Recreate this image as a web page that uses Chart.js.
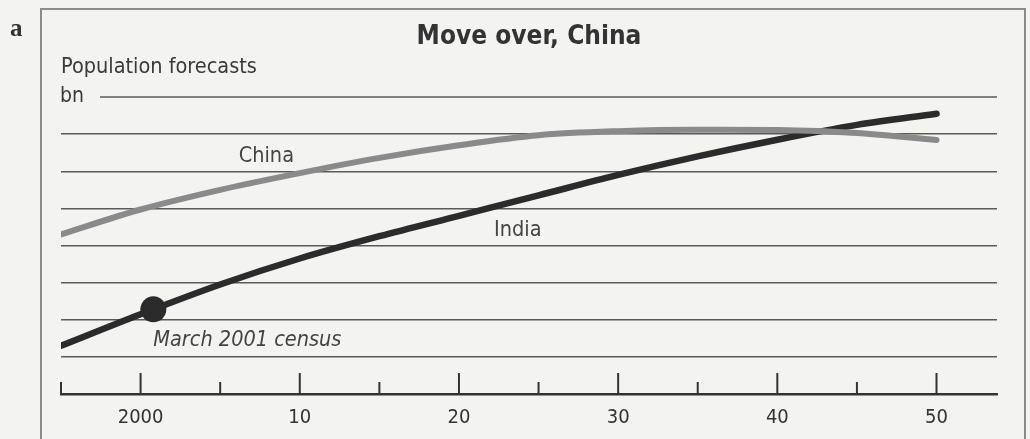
<!DOCTYPE html>
<html>
<head>
<meta charset="utf-8">
<title>Move over, China</title>
<script src="https://cdn.jsdelivr.net/npm/chart.js@4.4.1/dist/chart.umd.min.js"></script>
<style>
  html, body { margin: 0; padding: 0; background: #f3f3f1; }
  #wrap { position: relative; width: 1030px; height: 439px; }
</style>
</head>
<body>
<div id="wrap"><canvas id="population-chart"></canvas></div>
<script>
// population forecasts, bn
var years = [1995, 2000, 2005, 2010, 2015, 2020, 2025, 2030, 2035, 2040, 2045, 2050];
var china = [1.23, 1.297, 1.35, 1.395, 1.436, 1.47, 1.497, 1.508, 1.512, 1.511, 1.503, 1.484];
var india = [0.93, 1.015, 1.095, 1.165, 1.225, 1.28, 1.335, 1.39, 1.44, 1.485, 1.525, 1.555];
var censusYear = 2000.8;
var censusValue = 1.028;

var tickYears = [2000, 2010, 2020, 2030, 2040, 2050];
var tickLabels = ["2000", "10", "20", "30", "40", "50"];
var minorTickYears = [1995, 2005, 2015, 2025, 2035, 2045];

var narrow = '"Liberation Sans Narrow", "Arial Narrow", "DejaVu Sans Condensed", sans-serif';

function points(xs, ys) {
  return xs.map(function (x, i) { return { x: x, y: ys[i] }; });
}

// labels placed in data coordinates (year, value at text baseline)
var notes = [
  { text: "China", x: 2007.9, y: 1.426, align: "center", style: "" },
  { text: "India", x: 2023.7, y: 1.226, align: "center", style: "" },
  { text: "March 2001 census", x: 2000.8, y: 0.929, align: "left", style: "italic " }
];

var decor = {
  id: "decor",
  beforeDraw: function (chart) {
    var c = chart.ctx;
    c.save();
    c.fillStyle = "#f3f3f1";
    c.fillRect(0, 0, chart.width, chart.height);
    c.strokeStyle = "#8c8c8c";
    c.lineWidth = 2;
    c.strokeRect(41, 9, 984, 460);
    c.fillStyle = "#333";
    c.font = 'bold 25px "Liberation Serif", serif';
    c.textBaseline = "alphabetic";
    c.fillText("a", 10, 36);
    c.restore();
  },
  beforeDatasetsDraw: function (chart) {
    var c = chart.ctx, y = chart.scales.y, x = chart.scales.x;
    var top = y.getPixelForValue(1.6);
    c.save();
    c.strokeStyle = "#5a5a5a";
    c.lineWidth = 1.5;
    c.beginPath();
    c.moveTo(100, top);
    c.lineTo(x.right, top);
    c.stroke();
    c.fillStyle = "#3a3a3a";
    c.font = "21px " + narrow;
    c.textBaseline = "alphabetic";
    c.fillText("bn", 60, top + 5);
    c.restore();
  },
  afterDraw: function (chart) {
    var c = chart.ctx, x = chart.scales.x, y = chart.scales.y;
    var base = chart.chartArea.bottom;
    c.save();
    c.strokeStyle = "#333";
    c.lineWidth = 2;
    tickYears.forEach(function (t) {
      var px = x.getPixelForValue(t);
      c.beginPath(); c.moveTo(px, base); c.lineTo(px, base - 21); c.stroke();
    });
    minorTickYears.forEach(function (t) {
      var px = x.getPixelForValue(t);
      c.beginPath(); c.moveTo(px, base); c.lineTo(px, base - 12); c.stroke();
    });
    c.fillStyle = "#444";
    c.textBaseline = "alphabetic";
    notes.forEach(function (n) {
      c.font = n.style + "21.5px " + narrow;
      c.textAlign = n.align;
      c.fillText(n.text, x.getPixelForValue(n.x), y.getPixelForValue(n.y));
    });
    c.restore();
  }
};

var ctx = document.getElementById("population-chart").getContext("2d");

var myChart = new Chart(ctx, {
  type: "line",
  data: {
    datasets: [
      {
        label: "China",
        data: points(years, china),
        borderColor: "#8a8a8a",
        borderWidth: 6,
        borderCapStyle: "round",
        cubicInterpolationMode: "monotone",
        pointRadius: 0
      },
      {
        label: "India",
        data: points(years, india),
        borderColor: "#2b2b2b",
        borderWidth: 6.5,
        borderCapStyle: "round",
        cubicInterpolationMode: "monotone",
        pointRadius: 0
      },
      {
        label: "March 2001 census",
        data: [{ x: censusYear, y: censusValue }],
        showLine: false,
        pointRadius: 13,
        pointBackgroundColor: "#2b2b2b",
        pointBorderWidth: 0
      }
    ]
  },
  options: {
    responsive: true,
    maintainAspectRatio: false,
    animation: false,
    events: [],
    layout: { autoPadding: false, padding: { left: 61, right: 33, top: 10, bottom: 0 } },
    plugins: {
      legend: { display: false },
      tooltip: { enabled: false },
      title: {
        display: true,
        text: "Move over, China",
        color: "#333",
        font: { family: narrow, size: 26, weight: "bold", lineHeight: 1.2 },
        padding: { top: 11.4, bottom: 0 }
      },
      subtitle: {
        display: true,
        text: "Population forecasts",
        align: "start",
        color: "#3a3a3a",
        font: { family: narrow, size: 21.5, lineHeight: 1.2 },
        padding: { top: 1.5, bottom: 17.1 }
      }
    },
    scales: {
      x: {
        type: "linear",
        min: 1995,
        max: 2053.8,
        afterBuildTicks: function (scale) {
          scale.ticks = tickYears.map(function (v) { return { value: v }; });
        },
        afterFit: function (scale) { scale.height = 45; },
        grid: { display: false, drawTicks: false },
        border: { display: true, color: "#333", width: 2.5 },
        ticks: {
          padding: 12,
          color: "#333",
          font: { family: narrow, size: 20 },
          maxRotation: 0,
          callback: function (v) {
            var i = tickYears.indexOf(v);
            return i >= 0 ? tickLabels[i] : "";
          }
        }
      },
      y: {
        min: 0.8,
        max: 1.6,
        afterFit: function (scale) { scale.width = 0; },
        ticks: { display: false, stepSize: 0.1 },
        border: { display: false },
        grid: {
          drawTicks: false,
          lineWidth: 1.5,
          color: function (c) {
            var v = c.tick ? c.tick.value : 0;
            if (Math.abs(v - 1.6) < 0.001 || Math.abs(v - 0.8) < 0.001) return "rgba(0,0,0,0)";
            return "#5a5a5a";
          }
        }
      }
    }
  },
  plugins: [decor]
});
</script>
</body>
</html>
